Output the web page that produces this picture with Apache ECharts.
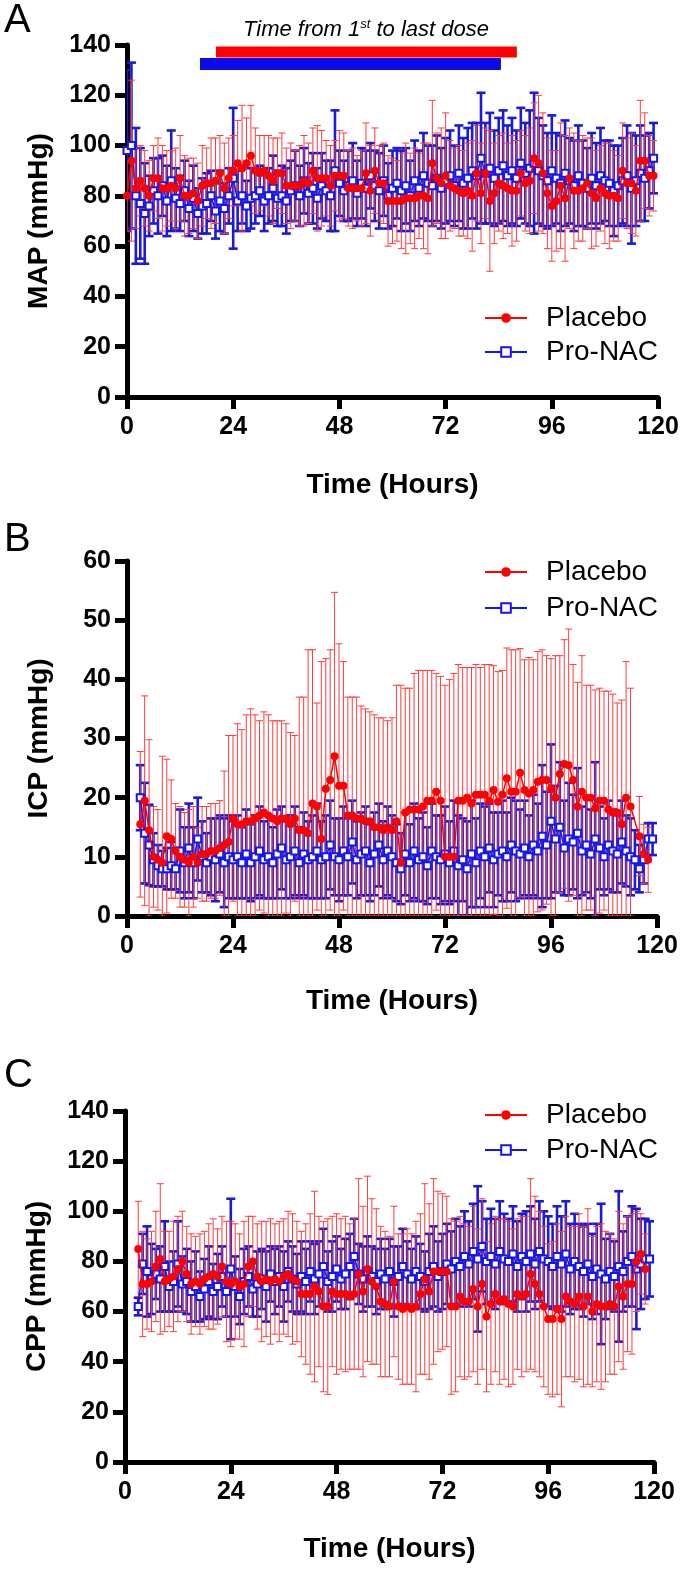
<!DOCTYPE html>
<html><head><meta charset="utf-8">
<script src="https://cdn.jsdelivr.net/npm/echarts@6/dist/echarts.min.js"></script>
<style>html,body{margin:0;padding:0;background:#fff}#c{width:683px;height:1569px}</style>
</head><body><div id="c"></div><script>
// ---------------- DATA ----------------
const startMAP = 0;      // first sampled hour, panel A
const startICPCPP = 3;   // first sampled hour, panels B and C
const hourTicks = [0, 24, 48, 72, 96, 120];
const dosePlacebo = [20.1, 88.1];  // hours, first to last dose
const doseProNAC = [16.5, 84.5];

const mapPlacebo = [80,94,83,86,83,80,87,87,83,83,
 84,83,87,80,80,81,78,84,85,85,
 86,89,83,87,90,93,91,93,96,90,
 89,90,88,86,89,89,84,84,84,84,
 86,85,90,87,87,87,84,88,88,88,
 83,83,83,83,89,82,90,85,85,78,
 78,78,78,79,79,79,80,80,79,93,
 87,85,88,84,83,82,81,82,80,89,
 81,89,78,81,85,84,83,82,82,89,
 85,86,95,93,89,81,76,78,84,79,
 87,82,82,83,85,81,79,83,81,80,
 80,79,90,85,85,82,94,94,88,88];
const mapPlaceboSD = [14,32,16,14,15,14,13,16,17,15,
 14,16,17,16,15,14,15,16,14,18,
 17,15,18,16,14,17,25,18,20,17,
 15,14,16,17,14,16,15,17,14,16,
 18,16,17,21,19,15,16,14,18,17,
 15,16,13,15,20,18,17,15,16,18,
 17,16,19,22,18,20,17,21,22,25,
 18,22,25,18,16,18,17,19,22,19,
 20,18,28,20,19,21,18,22,20,17,
 19,21,22,27,24,22,22,20,25,25,
 20,23,20,21,18,22,19,17,20,21,
 18,17,19,18,20,18,24,19,16,14];
const mapProNAC = [98,100,80,77,73,76,82,80,84,78,
 86,79,77,82,75,79,73,76,77,80,
 74,78,75,80,87,78,80,76,79,80,
 82,78,80,83,79,80,78,82,84,80,
 86,81,83,79,84,82,80,90,85,82,
 84,86,81,85,83,88,84,82,86,80,
 83,85,82,84,80,86,83,88,85,84,
 87,83,86,88,84,89,85,87,90,88,
 95,89,91,87,90,92,88,90,87,93,
 89,91,93,90,88,86,90,87,85,89,
 86,84,88,85,83,87,84,88,86,85,
 82,84,86,88,83,86,89,87,90,95];
const mapProNACSD = [32,33,27,22,20,12,13,15,12,14,
 20,12,11,12,11,13,10,11,12,10,
 11,12,10,11,28,12,11,10,12,11,
 10,12,11,13,11,12,13,12,14,12,
 13,12,14,12,13,12,14,24,13,12,
 14,15,13,14,15,13,14,15,14,13,
 15,14,16,15,14,16,15,17,15,16,
 17,16,17,18,16,19,18,20,19,21,
 26,20,22,19,21,22,20,21,19,22,
 20,23,28,21,20,19,22,18,19,21,
 17,18,20,17,16,18,17,19,16,17,
 18,16,17,20,22,18,19,17,15,14];

const icpPlacebo = [15.5,19.5,14.5,10,9.5,9,13.5,13,11,10,
 9.5,9,10,9,10.5,10.5,11,11,11.5,12,
 12.5,16.5,15.5,15.5,16,16,16.5,17,17.5,17,
 16.5,16,16.5,16.5,15.5,16.5,14.5,14.5,14,19,
 18.5,13,21.5,23,27,22,22,17,17,16.5,
 16.5,16,16,15,15,14.5,15,14.5,16,9,
 17.5,18,18,18,18.5,19.5,19.5,21,19.5,10,
 10,10,19.5,19.5,20,19,20.5,20.5,20.5,19.5,
 21.3,19.3,20.5,23.3,21,21,24.2,21.3,20.7,21.3,
 22.7,23,23,21.5,20,24,25.7,25.5,23,18.5,
 21,20,20,18.2,19.5,19.5,18,17.5,17.5,15.5,
 20,18.5,null,13.5,10.5,9.5,null];
const icpPlaceboSD = [12.3,17.7,15.3,8.5,8.5,18,13,10,8,8.5,
 8,9,8.5,6,8,8,8,8,8,12.5,
 18,14,17,16,18,19,17.5,16,17,17,
 16.5,17,16.5,16,15.5,14,22.5,22.5,31,26,
 17.5,30,22,22,27.7,24,21,20,20,20.5,
 19,19,18.5,19,18.5,19,18,19,23,30,
 21,20.5,23,23.5,23,22,22,20,21,29,
 30,31,23,22.5,22,23,22,21.5,22,23,
 21,22,21,22,24,24,21,22,23,22,
 22,22,21,22,24,20,21,23,19.5,21,
 23,19,19,20,19,18.5,20,20,18.5,21,
 23,20,null,6.7,5,5.5,null];
const icpProNAC = [20,14,12,9.5,8.5,8,8,8.5,8,11,
 9,11.5,9,13,10,9,10,9.5,10.5,9,
 10,9.5,10,9,10.5,9,10,11,9.5,10,
 9,10.5,11.5,9.5,10,11,9,10.5,9.5,10,
 11,9.5,10,12,10,9.5,11,10,12.5,9.5,
 10.5,11,9,10.5,12,9.5,11,10,9,8,
 10.5,9,11,9.5,10,8.5,11,10,9.5,10.5,
 9,11,8.5,9.5,8,10.5,9,11,10,11.5,
 9.5,10.5,11,10,12,11,10.5,11.5,10,12,
 11,13.5,12,16,13,15,11.5,13,12.5,14,
 11,12,10.5,13,11.5,10,12,11,10.5,12.5,
 11,10,9.5,8,9.5,13,13];
const icpProNACSD = [5.5,8.5,6.8,4.5,3.5,3,3.5,4,3.5,7,
 6,7.5,6,7,6,5,6.5,7,6.5,7.5,
 7,6.5,7,6,7.5,6.5,7,7.5,6.5,7,
 6,7.5,7,6.5,7,7.5,6,7,6.5,7,
 8,6.5,7,7.5,6.5,7,7.5,6.5,7,6.5,
 7,7.5,6.5,7,7,6.5,7.5,7,6.5,6,
 7,6.5,8,7,7.5,6.5,8,7,7.5,8,
 7,8.5,8.5,7,8,9,7.5,8,8.5,7.5,
 8,7,8.5,7.5,8,8.5,7.5,8,7,8.5,
 8,12,9,13,9,11,8,9.5,8,11,
 7.5,8,7.5,13,7,6.5,7.5,7,6.5,7,
 6,6.5,5,4,4,2.7,2.7];

const cppPlacebo = [85,71,71,72,78,81,72,73,74,77,
 80,75,71,72,71,73,74,75,74,78,
 72,71,72,70,71,78,80,74,72,73,
 72,73,72,74,75,73,72,67,67,67,
 70,68,62,62,68,67,67,67,66,67,
 75,68,77,72,70,64,63,62,72,62,
 61,62,61,62,67,73,68,76,76,76,
 76,62,62,66,64,64,69,62,71,58,
 63,67,64,65,63,62,67,66,67,75,
 71,67,62,57,57,61,57,66,64,63,
 66,62,66,60,63,62,62,63,62,70,
 66,71,71,80,83,77,null];
const cppPlaceboSD = [19,21,18,20,22,30,20,19,22,21,
 20,19,20,18,20,19,21,22,19,20,
 24,25,23,21,25,20,18,21,24,23,
 25,22,24,23,25,26,24,25,28,32,
 38,30,34,35,30,32,30,31,29,30,
 38,34,37,33,31,30,29,28,30,29,
 30,31,30,34,32,38,35,37,32,31,
 30,35,34,32,31,30,33,31,34,30,
 32,31,33,32,33,31,30,32,31,38,
 35,33,32,30,31,34,35,32,30,31,
 33,32,35,30,31,33,30,28,27,30,
 29,27,28,20,16,14,null];
const cppProNAC = [62,79,76,73,75,73,78,70,72,79,
 71,72,68,70,66,69,72,68,70,74,
 68,77,70,66,72,74,69,71,73,70,
 75,72,74,70,76,73,71,74,72,76,
 73,75,78,72,74,77,73,75,78,82,
 75,73,76,74,72,75,73,76,72,74,
 78,75,73,76,74,72,76,78,74,76,
 79,77,80,78,82,79,84,81,86,80,
 82,79,84,81,80,83,78,82,80,83,
 79,84,81,80,78,82,79,83,77,80,
 78,76,79,74,77,75,73,76,74,78,
 76,80,82,77,79,81,81];
const cppProNACSD = [3.5,12,18,14,10,13,18,10,12,17,
 11,13,12,14,10,12,14,11,13,12,
 10,28,12,11,13,12,11,13,12,14,
 11,13,12,14,12,13,12,14,13,12,
 14,13,15,12,14,13,12,14,13,15,
 12,13,14,12,13,14,12,13,14,12,
 15,13,12,14,13,12,15,16,14,15,
 16,15,17,16,18,17,19,29,18,17,
 19,18,20,18,17,19,18,17,20,19,
 18,20,19,18,17,20,19,21,18,19,
 17,18,16,17,18,28,16,15,14,30,
 16,18,20,24,18,16,15];

// ---------------- STYLE / LAYOUT ----------------
const FONT = "'Liberation Sans', Arial, Helvetica, sans-serif";
const RED = '#ff0000', RED_ERR = '#ff3b3b', BLUE = '#1515ee', BLUE_ERR = '#1a1ad8';
const DOSE_LEVEL = {Placebo: 137.2, 'Pro-NAC': 132.4}; // vertical placement of dose bars (axis units)

function pts(start, arr) {
  const out = [];
  arr.forEach((v, i) => { if (v != null) out.push([start + i, v]); });
  return out;
}
function bars(start, m, sd) {
  const out = [];
  m.forEach((v, i) => { if (v != null && sd[i] != null) out.push([start + i, v - sd[i], v + sd[i]]); });
  return out;
}
function errRender(color, lw, capHalf) {
  return function (params, api) {
    const x = api.value(0), lo = Math.max(api.value(1), 0), hi = api.value(2);
    const a = api.coord([x, lo]), b = api.coord([x, hi]);
    const st = {stroke: color, lineWidth: lw, fill: null};
    return {type: 'group', children: [
      {type: 'line', shape: {x1: a[0], y1: a[1], x2: b[0], y2: b[1]}, style: st},
      {type: 'line', shape: {x1: b[0] - capHalf, y1: b[1], x2: b[0] + capHalf, y2: b[1]}, style: st},
      {type: 'line', shape: {x1: a[0] - capHalf, y1: a[1], x2: a[0] + capHalf, y2: a[1]}, style: st}
    ]};
  };
}
const axisLabelStyle = {fontFamily: FONT, fontSize: 25, fontWeight: 'bold', color: '#000'};
const nameStyle = {fontFamily: FONT, fontSize: 28, fontWeight: 'bold', color: '#000'};
function xAx(i, gap) {
  return {type: 'value', gridIndex: i, min: hourTicks[0], max: hourTicks[hourTicks.length - 1],
    interval: hourTicks[1] - hourTicks[0],
    name: 'Time (Hours)', nameLocation: 'middle', nameGap: gap, nameTextStyle: nameStyle,
    axisLine: {lineStyle: {color: '#000', width: 5}},
    axisTick: {length: 12, lineStyle: {width: 5, color: '#000'}},
    axisLabel: Object.assign({margin: 18}, axisLabelStyle), splitLine: {show: false}};
}
function yAx(i, name, max, interval) {
  return {type: 'value', gridIndex: i, min: 0, max: max, interval: interval,
    name: name, nameLocation: 'middle', nameGap: 74, nameTextStyle: nameStyle,
    axisLine: {show: true, lineStyle: {color: '#000', width: 5}},
    axisTick: {show: true, length: 12, lineStyle: {width: 5, color: '#000'}},
    axisLabel: Object.assign({margin: 16}, axisLabelStyle), splitLine: {show: false}};
}
function panelSeries(i, start, pm, psd, bm, bsd) {
  return [
    {type: 'custom', name: 'Pro-NAC SD', xAxisIndex: i, yAxisIndex: i, z: 2, clip: true,
      renderItem: errRender(BLUE_ERR, 2.6, 4.5), encode: {x: 0, y: [1, 2]}, data: bars(start, bm, bsd)},
    {type: 'custom', name: 'Placebo SD', xAxisIndex: i, yAxisIndex: i, z: 3, clip: true,
      renderItem: errRender(RED_ERR, 1, 3.5), encode: {x: 0, y: [1, 2]}, data: bars(start, pm, psd)},
    {type: 'line', name: 'Pro-NAC', xAxisIndex: i, yAxisIndex: i, z: 4, data: pts(start, bm),
      symbol: 'rect', symbolSize: 7, showAllSymbol: true,
      itemStyle: {color: '#fff', borderColor: BLUE, borderWidth: 2},
      lineStyle: {color: BLUE, width: 1.5}},
    {type: 'line', name: 'Placebo', xAxisIndex: i, yAxisIndex: i, z: 5, data: pts(start, pm),
      symbol: 'circle', symbolSize: 8, showAllSymbol: true,
      itemStyle: {color: RED, borderColor: RED, borderWidth: 0},
      lineStyle: {color: RED, width: 1.5}}
  ];
}
function legendAt(top, gap) {
  return {top: top, left: 479, orient: 'vertical', itemWidth: 42, itemHeight: 12, itemGap: gap,
    selectedMode: false,
    textStyle: {fontFamily: FONT, fontSize: 28, color: '#000', lineHeight: 28, padding: [0, 0, 0, 14]},
    data: ['Placebo', 'Pro-NAC']};
}

const series = []
  .concat(panelSeries(0, startMAP, mapPlacebo, mapPlaceboSD, mapProNAC, mapProNACSD))
  .concat(panelSeries(1, startICPCPP, icpPlacebo, icpPlaceboSD, icpProNAC, icpProNACSD))
  .concat(panelSeries(2, startICPCPP, cppPlacebo, cppPlaceboSD, cppProNAC, cppProNACSD));

series.push({type: 'custom', name: 'dose', xAxisIndex: 0, yAxisIndex: 0, z: 6, clip: false,
  data: [[dosePlacebo[0], dosePlacebo[1], 'Placebo'], [doseProNAC[0], doseProNAC[1], 'Pro-NAC']],
  encode: {x: [0, 1]},
  renderItem: function (params, api) {
    const grp = params.dataIndex === 0 ? 'Placebo' : 'Pro-NAC';
    const lvl = DOSE_LEVEL[grp];
    const s = api.coord([api.value(0), lvl]), e = api.coord([api.value(1), lvl]);
    const h = params.dataIndex === 0 ? 11 : 12;
    return {type: 'rect', shape: {x: s[0], y: s[1] - h / 2, width: e[0] - s[0], height: h},
      style: {fill: params.dataIndex === 0 ? '#ff0000' : '#0a0ae8'}};
  }});

const option = {
  animation: false,
  backgroundColor: '#fff',
  grid: [
    {left: 127, top: 45, width: 531, height: 352},
    {left: 127, top: 561, width: 530, height: 355},
    {left: 125, top: 1111, width: 529, height: 351}
  ],
  xAxis: [xAx(0, 74), xAx(1, 71), xAx(2, 73)],
  yAxis: [yAx(0, 'MAP (mmHg)', 140, 20), yAx(1, 'ICP (mmHg)', 60, 10), yAx(2, 'CPP (mmHg)', 140, 20)],
  legend: [legendAt(299, 6), legendAt(553, 8), legendAt(1096, 7)],
  graphic: [
    {type: 'text', x: 4, y: 21, style: {text: 'A', fontFamily: FONT, fontSize: 40, fill: '#000', verticalAlign: 'middle'}},
    {type: 'text', x: 4, y: 540, style: {text: 'B', fontFamily: FONT, fontSize: 40, fill: '#000', verticalAlign: 'middle'}},
    {type: 'text', x: 4, y: 1076, style: {text: 'C', fontFamily: FONT, fontSize: 40, fill: '#000', verticalAlign: 'middle'}},
    {type: 'text', x: 366, y: 30, style: {
      text: '{n|Time from 1}{s|st}{n| to last dose}', align: 'center', verticalAlign: 'middle',
      rich: {
        n: {fontFamily: FONT, fontSize: 22, fontStyle: 'italic', fill: '#000', lineHeight: 24},
        s: {fontFamily: FONT, fontSize: 13, fontStyle: 'italic', fill: '#000', verticalAlign: 'top', lineHeight: 24, padding: [0, 0, 10, 0]}
      }}}
  ],
  series: series
};
const chart = echarts.init(document.getElementById('c'), null, {renderer: 'canvas'});
chart.setOption(option);
</script></body></html>
